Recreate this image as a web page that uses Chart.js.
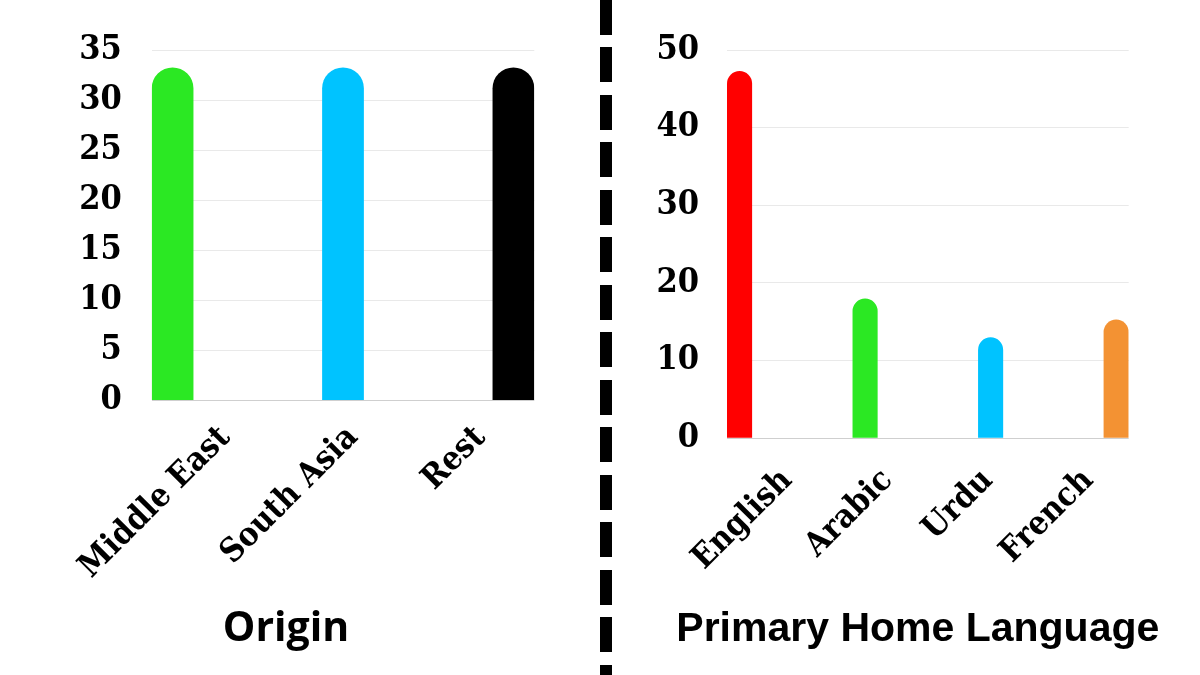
<!DOCTYPE html>
<html>
<head>
<meta charset="utf-8">
<script src="https://cdn.jsdelivr.net/npm/chart.js@4.4.1/dist/chart.umd.min.js"></script>
<style>
  html, body { margin: 0; padding: 0; background: #fff; }
  body { width: 1200px; height: 675px; position: relative; overflow: hidden; }
  canvas { position: absolute; top: 0; }
  #originChart { left: 0; }
  #languageChart { left: 640px; }
  #divider {
    position: absolute; left: 600px; top: 0; width: 12px; height: 675px;
    background: repeating-linear-gradient(to bottom, #000 0 35px, transparent 35px 47.5px);
  }
</style>
</head>
<body>
<canvas id="originChart" width="572" height="675"></canvas>
<div id="divider"></div>
<canvas id="languageChart" width="560" height="675"></canvas>

<script>
// Origin
const originLabels = ['Middle East', 'South Asia', 'Rest'];
const originValues = [33.3, 33.3, 33.3];
const originColors = ['#2be823', '#00c3ff', '#000000'];
const originYMax = 35;
const originYStep = 5;

// Primary Home Language
const languageLabels = ['English', 'Arabic', 'Urdu', 'French'];
const languageValues = [47.3, 18, 13, 15.3];
const languageColors = ['#ff0000', '#2be823', '#00c3ff', '#f39233'];
const languageYMax = 50;
const languageYStep = 10;

const serifFont = "'DejaVu Serif Condensed', 'DejaVu Serif', serif";

function makeChart(canvasId, cfg) {
  const n = cfg.labels.length;
  const half = cfg.barFrac / 2;
  return new Chart(document.getElementById(canvasId), {
    type: 'bar',
    data: {
      datasets: [{
        data: cfg.values.map((v, i) => ({ x: i, y: v })),
        backgroundColor: cfg.colors,
        borderRadius: 100,
        borderSkipped: 'start',
        categoryPercentage: 1,
        barPercentage: cfg.barFrac,
        xAxisID: 'x',
        yAxisID: 'y'
      }]
    },
    options: {
      responsive: false,
      animation: false,
      layout: { padding: cfg.padding },
      plugins: {
        legend: { display: false },
        tooltip: { enabled: false },
        title: {
          display: true,
          position: 'bottom',
          text: cfg.title,
          color: '#000',
          font: cfg.titleFont,
          padding: { top: 0, bottom: cfg.titlePad }
        }
      },
      scales: {
        // bars sit on a linear axis so the first/last bar touch the plot edges
        x: {
          type: 'linear',
          display: false,
          offset: false,
          min: -half,
          max: n - 1 + half,
          afterBuildTicks: s => { s.ticks = cfg.labels.map((_, i) => ({ value: i })); }
        },
        // labels are spread like a normal offset category axis
        xl: {
          type: 'category',
          position: 'bottom',
          labels: cfg.labels,
          offset: true,
          grid: { display: false, drawTicks: false },
          border: { display: false },
          ticks: {
            color: '#000',
            font: { family: serifFont, size: 33, weight: 'bold' },
            minRotation: 45,
            maxRotation: 45,
            autoSkip: false,
            padding: cfg.xPad,
            labelOffset: 10
          },
          afterFit: s => { s.height = cfg.xHeight; }
        },
        y: {
          min: 0,
          max: cfg.yMax,
          afterFit: s => { s.width = cfg.yWidth; },
          border: { display: false },
          grid: {
            drawTicks: false,
            color: c => c.tick.value === 0 ? '#cfcfcf' : '#e9e9e9'
          },
          ticks: {
            stepSize: cfg.yStep,
            padding: cfg.yPad,
            color: '#000',
            font: { family: serifFont, size: 34, weight: 'bold' }
          }
        },
        // empty spacer on the right, keeps the title where it belongs
        spacer: {
          type: 'linear',
          position: 'right',
          display: cfg.spacer > 0,
          grid: { display: false },
          border: { display: false },
          ticks: { display: false },
          afterFit: s => { s.width = cfg.spacer; }
        }
      }
    }
  });
}

makeChart('originChart', {
  labels: originLabels,
  values: originValues,
  colors: originColors,
  yMax: originYMax,
  yStep: originYStep,
  barFrac: 0.245,
  title: 'Origin',
  titleFont: { family: 'Open Sans', size: 41, weight: 'bold' },
  titlePad: 21,
  padding: { left: 37.7, right: 37.7, top: 49.3, bottom: 0 },
  yWidth: 114,
  yPad: 30,
  spacer: 0,
  xPad: 18,
  xHeight: 204.4
});

makeChart('languageChart', {
  labels: languageLabels,
  values: languageValues,
  colors: languageColors,
  yMax: languageYMax,
  yStep: languageYStep,
  barFrac: 0.2,
  title: 'Primary Home Language',
  titleFont: { family: 'Liberation Sans', size: 41, weight: 'bold' },
  titlePad: 21,
  padding: { left: 0, right: 4.4, top: 50, bottom: 0 },
  yWidth: 87,
  yPad: 28,
  spacer: 66.9,
  xPad: 23,
  xHeight: 166.5
});
</script>
</body>
</html>
